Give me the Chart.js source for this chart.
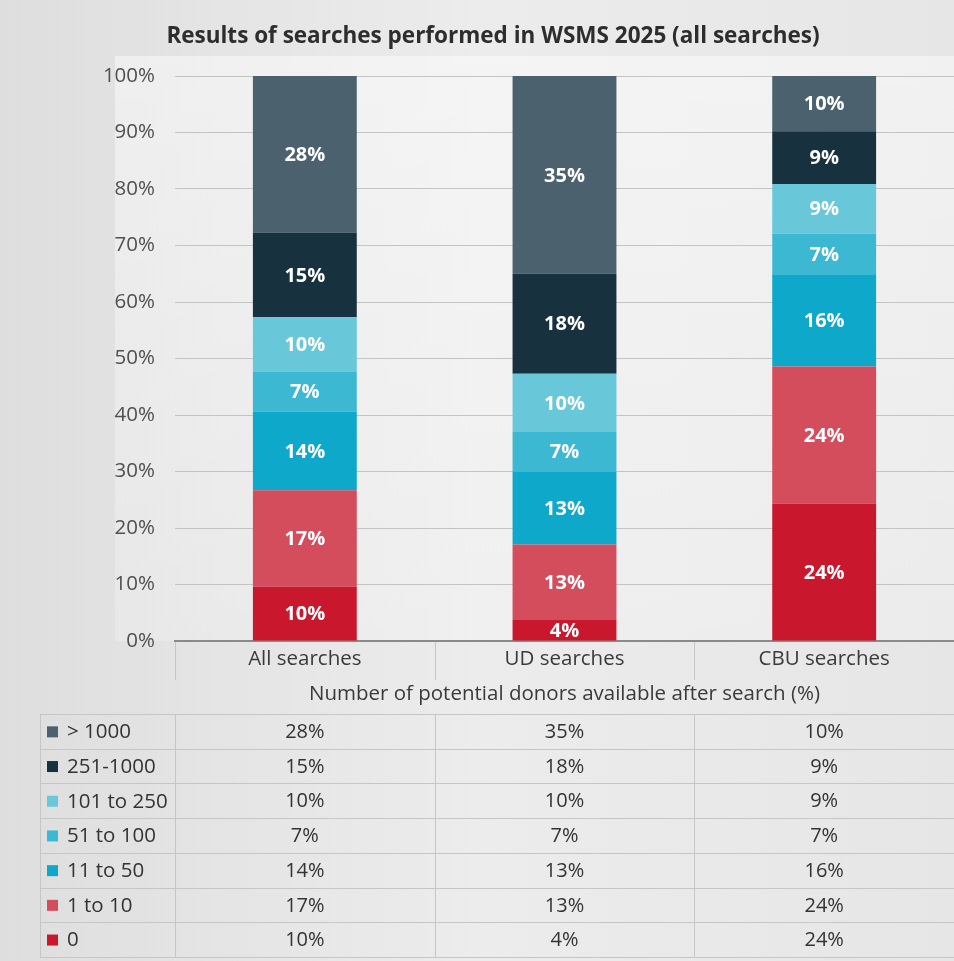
<!DOCTYPE html>
<html>
<head>
<meta charset="utf-8">
<script src="https://cdn.jsdelivr.net/npm/chart.js@4"></script>
<style>
  html, body { margin: 0; padding: 0; background: #e8e8e8; }
  #wrap { width: 954px; height: 961px; }
</style>
</head>
<body>
<div id="wrap"><canvas id="c" width="954" height="961"></canvas></div>
<script>
// ---- data ----
const categories = ['All searches', 'UD searches', 'CBU searches'];
const seriesNames = ['0', '1 to 10', '11 to 50', '51 to 100', '101 to 250', '251-1000', '> 1000'];
const v0        = [9.6, 3.7, 24.3];
const v1to10    = [17.1, 13.4, 24.3];
const v11to50   = [13.9, 12.9, 16.3];
const v51to100  = [7.1, 7.0, 7.2];
const v101to250 = [9.6, 10.3, 8.8];
const v251to1000 = [15.0, 17.7, 9.3];
const vOver1000 = [27.7, 35.0, 9.8];
const yTicks = [0, 10, 20, 30, 40, 50, 60, 70, 80, 90, 100];
const chartTitle = 'Results of searches performed in WSMS 2025 (all searches)';
const axisTitle = 'Number of potential donors available after search (%)';

const seriesValues = [v0, v1to10, v11to50, v51to100, v101to250, v251to1000, vOver1000];
const seriesColors = ['#c9172d', '#d44d5d', '#0ea8ca', '#3cb8d3', '#68c7d9', '#17313e', '#4b616d'];

const FONT = "'Open Sans', 'DejaVu Sans', sans-serif";

const bgPlugin = {
  id: 'bg',
  beforeDraw(chart) {
    const {ctx, width, height, chartArea} = chart;
    ctx.save();
    const g = ctx.createLinearGradient(0, 0, width, 0);
    g.addColorStop(0, '#dedede');
    g.addColorStop(0.5, '#ececec');
    g.addColorStop(1, '#e6e6e6');
    ctx.fillStyle = g;
    ctx.fillRect(0, 0, width, height);
    const g2 = ctx.createLinearGradient(0, chartArea.top - 20, 0, chartArea.bottom);
    g2.addColorStop(0, 'rgba(255,255,255,0.45)');
    g2.addColorStop(1, 'rgba(255,255,255,0.2)');
    ctx.fillStyle = g2;
    ctx.fillRect(chartArea.left - 60, chartArea.top - 20, chartArea.right - chartArea.left + 60, chartArea.bottom - chartArea.top + 20);
    ctx.restore();
  }
};

const labelPlugin = {
  id: 'barLabels',
  afterDatasetsDraw(chart) {
    const {ctx} = chart;
    ctx.save();
    ctx.font = "bold 20px " + FONT;
    ctx.fillStyle = '#ffffff';
    ctx.textAlign = 'center';
    ctx.textBaseline = 'middle';
    chart.data.datasets.forEach((ds, i) => {
      const meta = chart.getDatasetMeta(i);
      meta.data.forEach((el, j) => {
        const v = ds.data[j];
        const y = (el.y + el.base) / 2;
        ctx.fillText(Math.round(v) + '%', el.x, y + 1);
      });
    });
    ctx.restore();
  }
};

const tablePlugin = {
  id: 'dataTable',
  afterDraw(chart) {
    const {ctx, chartArea} = chart;
    const xs = chart.scales.x;
    const n = categories.length;
    const colW = (chartArea.right - chartArea.left) / n;
    const tableLeft = 40;
    const rowTop = 714;
    const rowH = 34.7;
    const nRows = seriesNames.length;
    ctx.save();

    // title
    ctx.font = "bold 22.5px " + FONT;
    ctx.fillStyle = '#2d2d2d';
    ctx.textAlign = 'center';
    ctx.textBaseline = 'middle';
    ctx.fillText(chartTitle, 493, 37);

    // grid lines of table
    ctx.strokeStyle = '#c6c6c6';
    ctx.lineWidth = 1;
    for (let i = 0; i < n; i++) {
      const x = Math.round(xs.getPixelForValue(i) - colW / 2) + 0.5;
      ctx.beginPath(); ctx.moveTo(x, chartArea.bottom + 1); ctx.lineTo(x, 680); ctx.stroke();
    }
    for (let r = 0; r <= nRows; r++) {
      const y = Math.round(rowTop + r * rowH) + 0.5;
      ctx.beginPath(); ctx.moveTo(tableLeft, y); ctx.lineTo(chartArea.right, y); ctx.stroke();
    }
    const vx = [tableLeft];
    for (let i = 0; i < n; i++) vx.push(xs.getPixelForValue(i) - colW / 2);
    vx.forEach(x0 => {
      const x = Math.round(x0) + 0.5;
      ctx.beginPath(); ctx.moveTo(x, rowTop); ctx.lineTo(x, rowTop + nRows * rowH); ctx.stroke();
    });

    // axis title row
    ctx.font = "20.5px " + FONT;
    ctx.fillStyle = '#3a3a3a';
    ctx.fillText(axisTitle, (chartArea.left + chartArea.right) / 2, 694);

    // data rows: top row is last series
    for (let r = 0; r < nRows; r++) {
      const s = nRows - 1 - r;
      const cy = rowTop + r * rowH + rowH / 2 + 1;
      ctx.fillStyle = seriesColors[s];
      ctx.fillRect(47, cy - 6, 11, 11);
      ctx.fillStyle = '#333333';
      ctx.textAlign = 'left';
      ctx.font = "20.5px " + FONT;
      ctx.fillText(seriesNames[s], 67, cy);
      ctx.textAlign = 'center';
      ctx.font = "20px " + FONT;
      for (let i = 0; i < n; i++) {
        ctx.fillText(Math.round(seriesValues[s][i]) + '%', xs.getPixelForValue(i), cy);
      }
    }
    ctx.restore();
  }
};

new Chart(document.getElementById('c'), {
  type: 'bar',
  data: {
    labels: categories,
    datasets: seriesNames.map((name, i) => ({
      label: name,
      data: seriesValues[i],
      backgroundColor: seriesColors[i],
      borderWidth: 0,
      barPercentage: 0.4,
      categoryPercentage: 1.0
    }))
  },
  options: {
    responsive: false,
    animation: false,
    layout: { padding: { top: 76, left: 0, right: 0, bottom: 0 } },
    plugins: {
      legend: { display: false },
      title: { display: false },
      tooltip: { enabled: false }
    },
    scales: {
      x: {
        stacked: true,
        grid: { display: false, drawTicks: false },
        border: { display: true, color: '#8a8a8a', width: 2 },
        ticks: { font: { family: FONT, size: 20.5 }, color: '#3a3a3a', padding: 6 },
        afterFit: s => { s.height = 320; }
      },
      y: {
        stacked: true,
        min: 0,
        max: 100,
        afterBuildTicks: s => { s.ticks = yTicks.map(v => ({ value: v })); },
        grid: { color: '#c4c4c4', lineWidth: 1, drawTicks: false },
        border: { display: false },
        ticks: {
          font: { family: FONT, size: 20.5 },
          color: '#505050',
          padding: 20,
          callback: v => v + '%'
        },
        afterFit: s => { s.width = 175; }
      }
    }
  },
  plugins: [bgPlugin, labelPlugin, tablePlugin]
});
</script>
</body>
</html>
